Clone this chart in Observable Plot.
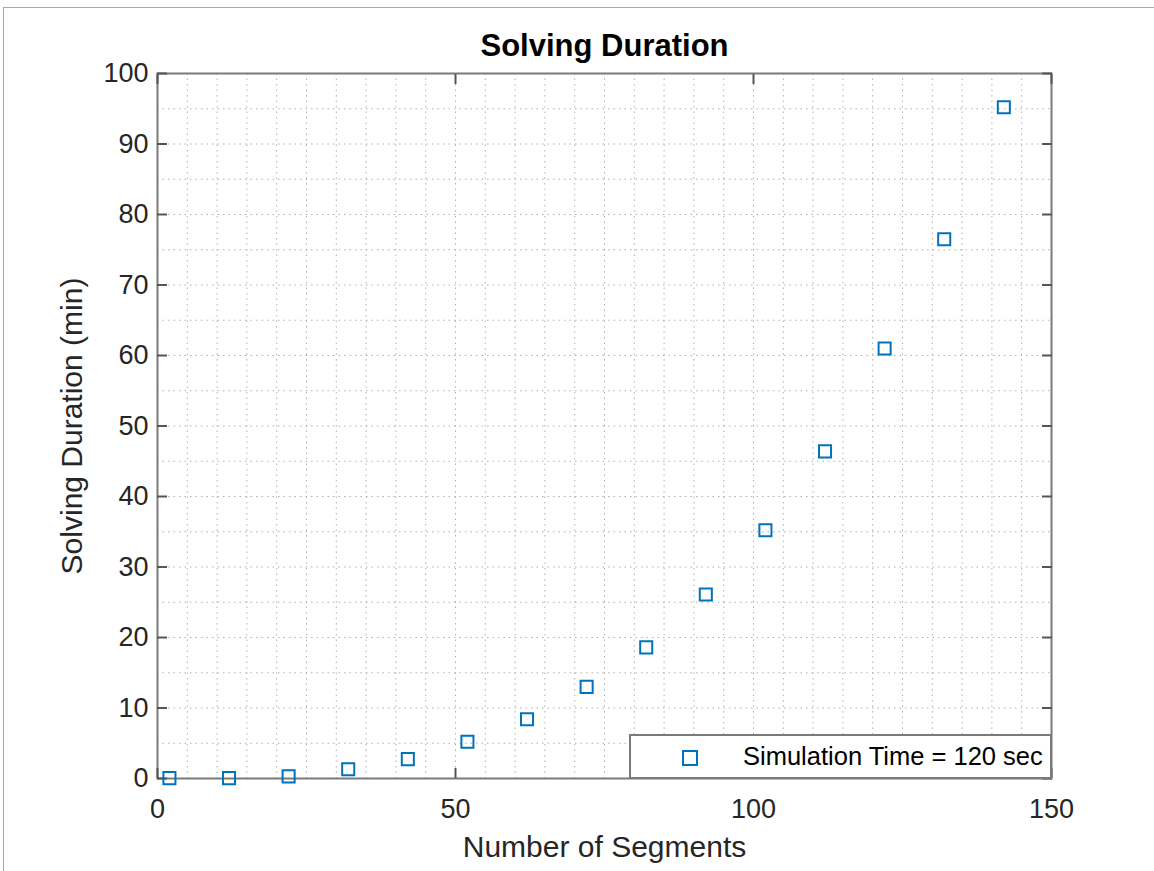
<!DOCTYPE html>
<html><head><meta charset="utf-8">
<script src="https://cdn.jsdelivr.net/npm/d3@7"></script>
<script src="https://cdn.jsdelivr.net/npm/@observablehq/plot@0.6"></script>
<style>
body{margin:0;background:#fff;}
#wrap{position:relative;width:1154px;height:871px;overflow:hidden;background:#fff;}
#border{position:absolute;left:3px;top:7px;width:1160px;height:880px;border-top:1.5px solid #a8a8a8;border-left:1.5px solid #a8a8a8;}
#chart{position:absolute;left:0;top:0;}
#legend{position:absolute;left:629px;top:734px;width:423px;height:45px;box-sizing:border-box;border:2px solid #7a7a7a;background:#fff;font:25.5px "Liberation Sans",Arial,sans-serif;color:#000;}
#legend svg{position:absolute;left:51px;top:14px;}
#legend span{position:absolute;left:112px;top:50%;transform:translateY(-52%);white-space:nowrap;}
</style></head>
<body>
<div id="wrap"><div id="border"></div><div id="chart"></div>
<div id="legend"><svg width="16" height="16"><rect x="1" y="1" width="14" height="14" fill="none" stroke="#0072BD" stroke-width="2"/></svg><span id="legtext"></span></div>
</div>
<script>
const segments = [2, 12, 22, 32, 42, 52, 62, 72, 82, 92, 102, 112, 122, 132, 142];
const duration = [0.05, 0.05, 0.3, 1.3, 2.75, 5.2, 8.4, 13.0, 18.6, 26.1, 35.2, 46.4, 61.0, 76.5, 95.2];
const xTicks = [0, 50, 100, 150];
const yTicks = [0, 10, 20, 30, 40, 50, 60, 70, 80, 90, 100];
const seriesName = "Simulation Time = 120 sec";
const titleText = "Solving Duration";
const xLabel = "Number of Segments";
const yLabel = "Solving Duration (min)";

const gridX = d3.range(0, 151, 5);
const gridY = d3.range(0, 101, 5);
const data = segments.map((x, i) => ({x, y: duration[i]}));

document.getElementById("legtext").textContent = seriesName;

const tickStyle = {tickFormat: () => "", label: null, stroke: "#555", strokeWidth: 2, tickSize: -10};
const chart = Plot.plot({
  width: 1154, height: 871,
  marginLeft: 157, marginRight: 103, marginTop: 73, marginBottom: 93,
  style: {fontFamily: '"Liberation Sans", Arial, sans-serif', fontSize: "27px", color: "#262626", background: "transparent"},
  x: {domain: [0, 150], label: null},
  y: {domain: [0, 100], label: null},
  marks: [
    Plot.ruleX(gridX, {stroke: "#b0b0b0", strokeDasharray: "1.5,4", strokeWidth: 1}),
    Plot.ruleY(gridY, {stroke: "#b0b0b0", strokeDasharray: "1.5,4", strokeWidth: 1}),
    Plot.frame({stroke: "#7a7a7a", strokeWidth: 2}),
    Plot.axisX(xTicks, {anchor: "bottom", ...tickStyle}),
    Plot.axisX(xTicks, {anchor: "top", ...tickStyle}),
    Plot.axisY(yTicks, {anchor: "left", ...tickStyle}),
    Plot.axisY(yTicks, {anchor: "right", ...tickStyle}),
    Plot.axisX(xTicks, {anchor: "bottom", tickSize: 0, tickPadding: 20, label: null, fill: "#262626"}),
    Plot.axisY(yTicks, {anchor: "left", tickSize: 0, tickPadding: 9, label: null, fill: "#262626"}),
    Plot.dot(data, {x: "x", y: "y", symbol: "square", r: 6.8, stroke: "#0072BD", strokeWidth: 2, fill: "none"}),
    Plot.text([titleText], {frameAnchor: "top", textAnchor: "middle", lineAnchor: "middle", dy: -27, fontWeight: "bold", fontSize: 31, fill: "#000"}),
    Plot.text([xLabel], {frameAnchor: "bottom", textAnchor: "middle", lineAnchor: "middle", dy: 69, fontSize: 30, fill: "#262626"}),
    Plot.text([yLabel], {frameAnchor: "left", textAnchor: "middle", lineAnchor: "middle", dx: -85, rotate: -90, fontSize: 30, fill: "#262626"})
  ]
});
document.getElementById("chart").appendChild(chart);
</script>
</body></html>
